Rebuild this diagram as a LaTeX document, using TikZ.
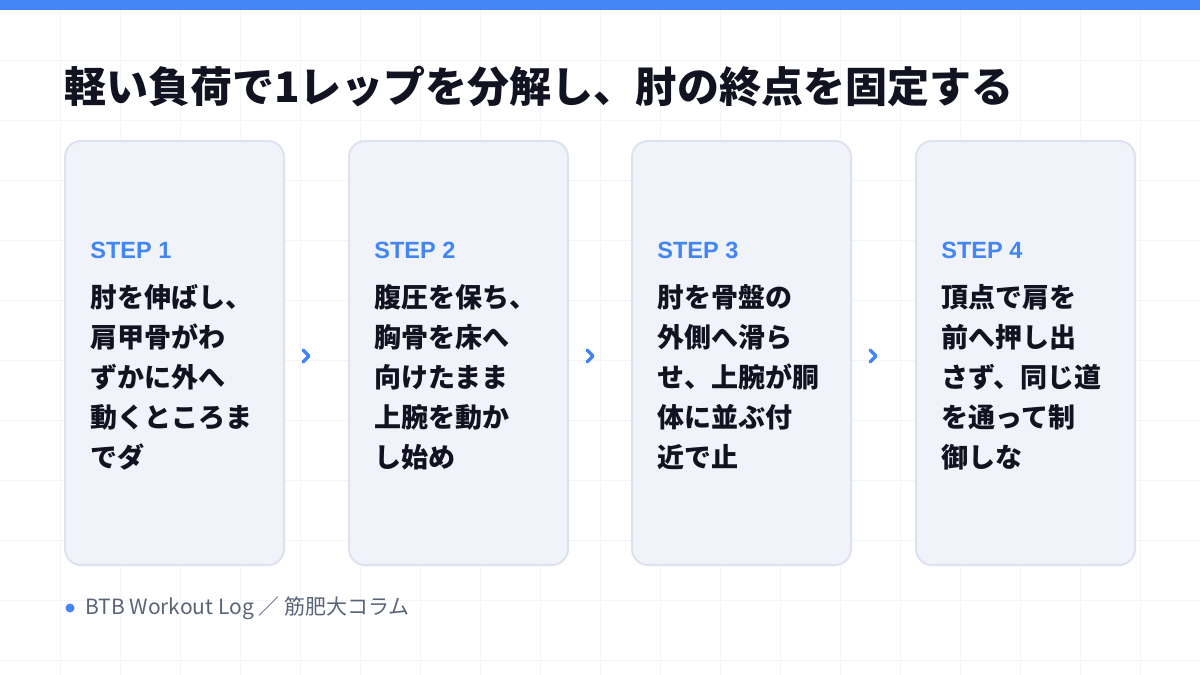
\documentclass[tikz,border=0pt]{standalone}
\usepackage{fontspec}
\setmainfont{Noto Sans}
\newfontfamily\jp{Noto Sans CJK JP}
\newfontfamily\latin{Liberation Sans}
\definecolor{accent}{RGB}{66,133,244}
\definecolor{ink}{RGB}{17,20,32}
\definecolor{cardfill}{RGB}{241,243,250}
\definecolor{cardline}{RGB}{221,226,238}
\definecolor{gridline}{RGB}{243,245,248}
\definecolor{muted}{RGB}{90,100,120}
\tikzset{every picture/.style={line width=0.75pt}}
\tikzset{
  card/.style={draw=cardline, line width=2pt, fill=cardfill, rounded corners=16pt},
  steplabel/.style={anchor=base west, inner sep=0pt, text=accent, font=\latin\bfseries\fontsize{23.5}{23.5}\selectfont},
  stepbody/.style={anchor=north west, inner sep=0pt, text=ink, align=left, font=\jp\bfseries\fontsize{27}{40}\selectfont},
  chev/.style={accent, line width=3.5pt, line cap=round, line join=round}
}
\begin{document}
\begin{tikzpicture}[x=1pt,y=1pt,yscale=-1,xscale=1]
\useasboundingbox (0,0) rectangle (1200,675);
\fill[white] (0,0) rectangle (1200,675);

% grid
\foreach \gx in {60,120,...,1140} \draw[gridline, line width=1pt] (\gx,10) -- (\gx,675);
\foreach \gy in {60,120,...,660} \draw[gridline, line width=1pt] (0,\gy) -- (1200,\gy);

% top bar
\fill[accent] (0,0) rectangle (1200,10);

% title
\node (title) [anchor=base west, inner sep=0pt, text=ink, font=\jp\bfseries\fontsize{42}{42}\selectfont] at (64,102) {軽い負荷で1レップを分解し、肘の終点を固定する};

% cards
\foreach \cx/\num/\body [count=\i] in {
  65/1/{肘を伸ばし、\\肩甲骨がわ\\ずかに外へ\\動くところま\\でダ},
  349/2/{腹圧を保ち、\\胸骨を床へ\\向けたまま\\上腕を動か\\し始め},
  632/3/{肘を骨盤の\\外側へ滑ら\\せ、上腕が胴\\体に並ぶ付\\近で止},
  916/4/{頂点で肩を\\前へ押し出\\さず、同じ道\\を通って制\\御しな}} {
  \draw[card] (\cx,141) rectangle ++(219,424);
  \node (step\i) [steplabel] at (\cx+25,258) {STEP \num};
  \node (body\i) [stepbody] at (\cx+25,284) {\body};
}

% chevrons
\foreach \ax in {306,590,873}
  \draw[chev] (\ax-3,350) -- (\ax+3,356) -- (\ax-3,362);

% footer
\fill[accent] (70,608) circle (4.5);
\node (footer) [anchor=west, inner sep=0pt, text=muted, font=\jp\fontsize{21}{21}\selectfont] at (85,608) {BTB Workout Log ／ 筋肥大コラム};
\end{tikzpicture}
\end{document}
